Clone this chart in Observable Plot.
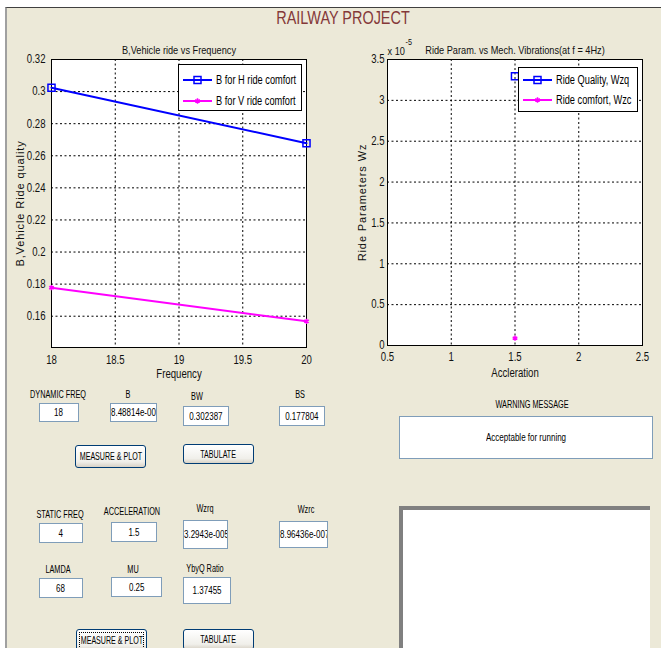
<!DOCTYPE html>
<html>
<head>
<meta charset="utf-8">
<script src="https://cdn.jsdelivr.net/npm/d3@7"></script>
<script src="https://cdn.jsdelivr.net/npm/@observablehq/plot@0.6"></script>
<style>
  body { margin: 0; background: #fff; }
  #gui { position: relative; width: 661px; height: 657px; overflow: hidden; background: #fff;
         font-family: "Liberation Sans", Arial, sans-serif; color: #000; }
  #panel { position: absolute; left: 5px; top: 7px; width: 656px; height: 641px; background: #ECE9D8;
           border-left: 2px solid #a0a0a0; border-top: 1px solid #404040; box-sizing: border-box; }
  .lbl { position: absolute; font-size: 10px; white-space: nowrap; }
  .edit { position: absolute; background: #fff; border: 1px solid #7F9DB9; font-size: 10px; display: flex;
          align-items: center; justify-content: center; overflow: hidden; white-space: nowrap; box-sizing: border-box; }
  .edit.left { justify-content: flex-start; }
  .btn { position: absolute; box-sizing: border-box; border: 1px solid #003C74; border-radius: 3px;
         background: linear-gradient(#ffffff, #F0EFEA 75%, #D8D2C6); font-size: 10px; display: flex;
         align-items: center; justify-content: center; white-space: nowrap; }
  .btn.focus::after { content: ""; position: absolute; left: 2px; top: 2px; right: 2px; bottom: 2px; border: 1px dotted #000; }
  .legend { position: absolute; background: #fff; border: 1px solid #000; box-sizing: border-box; }
  .legend .row { position: absolute; display: flex; align-items: center; font-size: 12px; white-space: nowrap; }
  .sq { display: inline-block; white-space: nowrap; }
  .plotwrap { position: absolute; }
</style>
</head>
<body>
<div id="gui">
  <div id="panel"></div>
</div>
<script>
// ---------- chart data ----------
const freq = [18, 20];
const bH = [0.302387, 0.2678];       // B for H ride comfort
const bV = [0.177804, 0.1568];       // B for V ride comfort
const xTicksL = [18, 18.5, 19, 19.5, 20];
const yTicksL = [0.16, 0.18, 0.2, 0.22, 0.24, 0.26, 0.28, 0.3, 0.32];

const accel = [1.5];
const wzq = [3.2943e-5];             // Ride Quality, Wzq
const wzc = [8.96436e-7];            // Ride comfort, Wzc
const xTicksR = [0.5, 1, 1.5, 2, 2.5];
const yTicksR = [0, 0.5e-5, 1e-5, 1.5e-5, 2e-5, 2.5e-5, 3e-5, 3.5e-5];

// GUI field texts
const fieldLabels = ["DYNAMIC FREQ", "B", "BW", "BS", "STATIC FREQ", "ACCELERATION", "Wzrq", "Wzrc", "LAMDA", "MU", "YbyQ Ratio", "WARNING MESSAGE"];
const fieldValues = ["18", "8.48814e-005", "0.302387", "0.177804", "4", "1.5", "3.2943e-005", "8.96436e-007", "68", "0.25", "1.37455"];
const buttons = ["MEASURE & PLOT", "TABULATE", "MEASURE & PLOT", "TABULATE"];
const warning = "Acceptable for running";

const H = freq.map((f, i) => ({f, b: bH[i]}));
const V = freq.map((f, i) => ({f, b: bV[i]}));
const Q = accel.map((a, i) => ({a, w: wzq[i]}));
const C = accel.map((a, i) => ({a, w: wzc[i]}));

const FONT = '"Liberation Sans", Arial, sans-serif';
const BLUE = "#0000FF", MAG = "#FF00FF";
const gui = document.getElementById("gui");

function add(tag, cls, css, text) {
  const e = document.createElement(tag);
  if (cls) e.className = cls;
  Object.assign(e.style, css);
  if (text != null) e.textContent = text;
  gui.appendChild(e);
  return e;
}
function squeezed(text, k, origin) {
  const s = document.createElement("span");
  s.className = "sq";
  s.textContent = text;
  s.style.transform = `scaleX(${k})`;
  s.style.transformOrigin = origin || "center center";
  return s;
}
function label(text, x, y, size, k, color) {
  add("div", "lbl", {left: x + "px", top: y + "px", fontSize: size + "px", color: color || "#000",
    transform: `translate(-50%, -50%) scaleX(${k})`}, text);
}

// ---------- title ----------
label("RAILWAY PROJECT", 343, 18, 19, 0.76, "#843838");

const gridStyle = {stroke: "#000", strokeOpacity: 1, strokeWidth: 1, strokeDasharray: "2,2.5"};
const fmt = d3.format("~g");

// ---------- left chart ----------
const left = Plot.plot({
  width: 330, height: 370,
  marginLeft: 51, marginRight: 24, marginTop: 29, marginBottom: 53,
  style: {fontFamily: FONT, fontSize: "12px", background: "transparent", color: "#111", overflow: "visible"},
  x: {domain: [18, 20]},
  y: {domain: [0.1405, 0.32]},
  marks: [
    Plot.frame({fill: "white", stroke: null}),
    Plot.gridX(xTicksL, gridStyle),
    Plot.gridY(yTicksL, gridStyle),
    Plot.frame({stroke: "#000", strokeWidth: 1}),
    Plot.axisX(xTicksL, {tickSize: 0, tickPadding: 8, tickFormat: d => fmt(d), label: null}),
    Plot.axisY(yTicksL, {tickSize: 0, tickPadding: 6, tickFormat: d => fmt(d), label: null}),
    Plot.line(H, {x: "f", y: "b", stroke: BLUE, strokeWidth: 2}),
    Plot.dot(H, {x: "f", y: "b", symbol: "square", r: 4, stroke: BLUE, strokeWidth: 1.5, fill: "none"}),
    Plot.line(V, {x: "f", y: "b", stroke: MAG, strokeWidth: 2}),
    Plot.dot(V, {x: "f", y: "b", symbol: "asterisk", r: 2.5, stroke: MAG, strokeWidth: 1.5}),
    Plot.text(["B,Vehicle ride vs Frequency"], {frameAnchor: "top", dy: -14, fontSize: 11.5, fill: "#111"}),
    Plot.text(["Frequency"], {frameAnchor: "bottom", dy: 30, fontSize: 12, fill: "#111"}),
    Plot.text(["B,Vehicle Ride quality"], {frameAnchor: "left", dx: -31, rotate: -90, textAnchor: "middle",
      fontSize: 11, fill: "#111", ariaDescription: "ylabel"})
  ]
});
const lw = add("div", "plotwrap", {left: "0px", top: "30px"});
lw.appendChild(left);

// ---------- right chart ----------
const right = Plot.plot({
  width: 331, height: 370,
  marginLeft: 57, marginRight: 19, marginTop: 29, marginBottom: 55,
  style: {fontFamily: FONT, fontSize: "12px", background: "transparent", color: "#111", overflow: "visible"},
  x: {domain: [0.5, 2.5]},
  y: {domain: [0, 3.5e-5]},
  marks: [
    Plot.frame({fill: "white", stroke: null}),
    Plot.gridX(xTicksR, gridStyle),
    Plot.gridY(yTicksR, gridStyle),
    Plot.frame({stroke: "#000", strokeWidth: 1}),
    Plot.axisX(xTicksR, {tickSize: 0, tickPadding: 7, tickFormat: d => fmt(d), label: null}),
    Plot.axisY(yTicksR, {tickSize: 0, tickPadding: 3, tickFormat: d => fmt(+(d * 1e5).toFixed(3)), label: null}),
    Plot.dot(Q, {x: "a", y: "w", symbol: "square", r: 4, stroke: BLUE, strokeWidth: 1.5, fill: "none"}),
    Plot.dot(C, {x: "a", y: "w", symbol: "asterisk", r: 2.5, stroke: MAG, strokeWidth: 1.5}),
    Plot.text(["Ride Param. vs Mech. Vibrations(at f = 4Hz)"], {frameAnchor: "top", dy: -14, fontSize: 11.5, fill: "#111"}),
    Plot.text(["x 10"], {frameAnchor: "top-left", dx: 0, dy: -13, textAnchor: "start", fontSize: 11.5, fill: "#111"}),
    Plot.text(["-5"], {frameAnchor: "top-left", dx: 18, dy: -21, textAnchor: "start", fontSize: 9, fill: "#111"}),
    Plot.text(["Accleration"], {frameAnchor: "bottom", dy: 31, fontSize: 12, fill: "#111"}),
    Plot.text(["Ride Parameters Wz"], {frameAnchor: "left", dx: -25, rotate: -90, textAnchor: "middle",
      fontSize: 11, fill: "#111", ariaDescription: "ylabel"})
  ]
});
const rw = add("div", "plotwrap", {left: "330px", top: "30px"});
rw.appendChild(right);

// condense chart texts horizontally (narrow look), widen the rotated axis titles
function condense(svg, k) {
  svg.querySelectorAll("text").forEach(t => {
    if (t.closest('g[aria-description="ylabel"]')) { t.style.letterSpacing = "0.9px"; return; }
    const L = t.getComputedTextLength();
    if (L > 0) { t.setAttribute("textLength", (L * k).toFixed(2)); t.setAttribute("lengthAdjust", "spacingAndGlyphs"); }
  });
}
condense(left, 0.8);
condense(right, 0.8);

// ---------- legends ----------
function swatch(color, symbol) {
  const ns = "http://www.w3.org/2000/svg";
  const s = document.createElementNS(ns, "svg");
  s.setAttribute("width", 30); s.setAttribute("height", 12);
  s.style.marginRight = "3px";
  const l = document.createElementNS(ns, "line");
  Object.entries({x1: 0, x2: 29, y1: 6, y2: 6, stroke: color, "stroke-width": 2}).forEach(([k, v]) => l.setAttribute(k, v));
  s.appendChild(l);
  if (symbol === "square") {
    const r = document.createElementNS(ns, "rect");
    Object.entries({x: 11, y: 2.5, width: 7, height: 7, fill: "none", stroke: color, "stroke-width": 1.5}).forEach(([k, v]) => r.setAttribute(k, v));
    s.appendChild(r);
  } else {
    const p = document.createElementNS(ns, "path");
    Object.entries({d: d3.symbol(d3.symbolAsterisk, 20)(), transform: "translate(14.5,6)", stroke: color, "stroke-width": 1.5, fill: "none"}).forEach(([k, v]) => p.setAttribute(k, v));
    s.appendChild(p);
  }
  return s;
}
function legend(x, y, w, h, rows) {
  const box = add("div", "legend", {left: x + "px", top: y + "px", width: w + "px", height: h + "px"});
  rows.forEach(([text, color, sym, cy]) => {
    const r = document.createElement("div");
    r.className = "row";
    Object.assign(r.style, {left: "4px", top: (cy - y - 7) + "px", height: "14px"});
    r.appendChild(swatch(color, sym));
    r.appendChild(squeezed(text, 0.77, "left center"));
    box.appendChild(r);
  });
}
legend(178, 64, 124, 47, [["B for H ride comfort", BLUE, "square", 79], ["B for V ride comfort", MAG, "star", 100]]);
legend(518, 67, 120, 45, [["Ride Quality, Wzq", BLUE, "square", 79], ["Ride comfort, Wzc", MAG, "star", 99]]);

// ---------- GUI controls ----------
const labelPos = [[58, 394], [128, 394], [197, 396], [300, 394], [60, 514], [132, 511], [205, 508], [306, 509], [58, 569], [133, 569], [205, 568], [532, 404]];
fieldLabels.forEach((t, i) => label(t, labelPos[i][0], labelPos[i][1], 10, 0.73));

const editPos = [[39, 403, 79, 422], [110, 403, 157, 422, 1], [183, 406, 229, 426], [279, 406, 325, 426],
  [39, 523, 83, 543], [111, 522, 157, 542], [183, 520, 228, 549, 1], [279, 521, 328, 548, 1],
  [39, 578, 83, 598], [111, 577, 162, 597], [183, 577, 231, 604]];
fieldValues.forEach((t, i) => {
  const [x1, y1, x2, y2, l] = editPos[i];
  const e = add("div", "edit" + (l ? " left" : ""), {left: x1 + "px", top: y1 + "px", width: (x2 - x1) + "px", height: (y2 - y1) + "px"});
  e.appendChild(squeezed(t, 0.8, l ? "left center" : "center center"));
});
const wbox = add("div", "edit", {left: "399px", top: "416px", width: "254px", height: "43px"});
wbox.appendChild(squeezed(warning, 0.8));

const btnPos = [[75, 445, 146, 468], [183, 444, 254, 464], [76, 629, 147, 652, 1], [183, 629, 254, 650]];
buttons.forEach((t, i) => {
  const [x1, y1, x2, y2, f] = btnPos[i];
  const b = add("div", "btn" + (f ? " focus" : ""), {left: x1 + "px", top: y1 + "px", width: (x2 - x1) + "px", height: (y2 - y1) + "px"});
  b.appendChild(squeezed(t, 0.71));
});

// lower-right blank panel
add("div", null, {position: "absolute", left: "399px", top: "506px", width: "251px", height: "160px", background: "#fff",
  borderTop: "4px solid #808080", borderLeft: "4px solid #808080", boxSizing: "border-box"});

// bottom white strip
add("div", null, {position: "absolute", left: "0px", top: "648px", width: "661px", height: "9px", background: "#fff"});
</script>
</body>
</html>
